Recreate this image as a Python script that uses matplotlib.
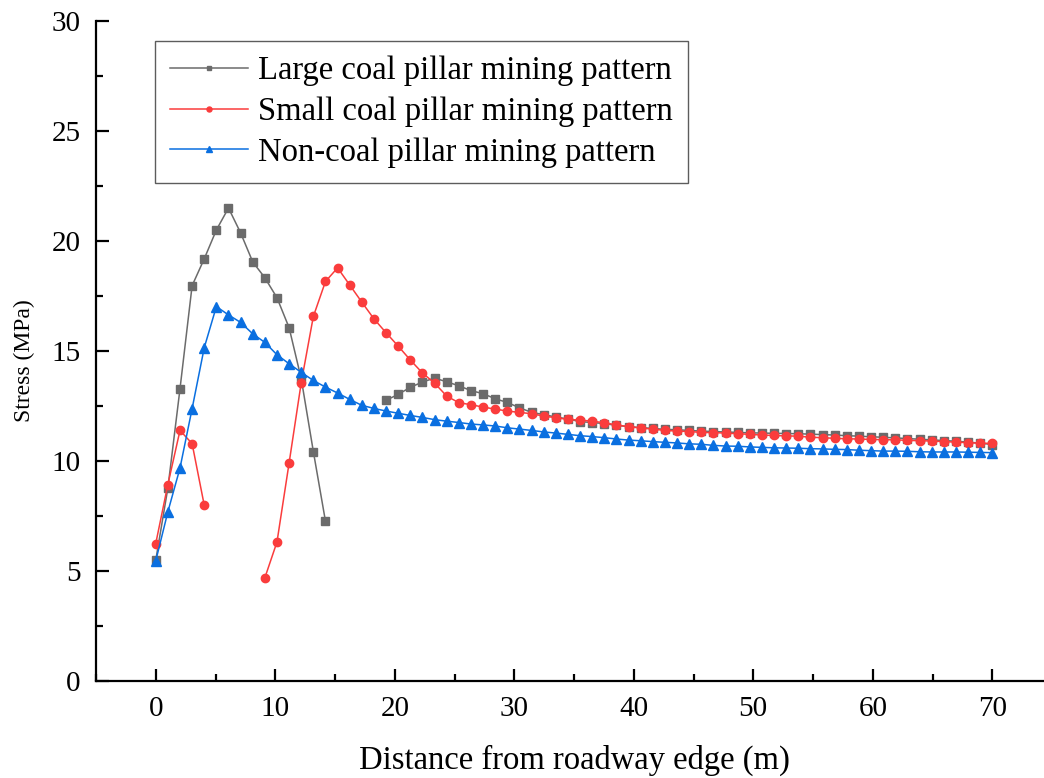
import numpy as np
import matplotlib
matplotlib.use("Agg")
import matplotlib.pyplot as plt
from matplotlib.ticker import MultipleLocator

plt.rcParams['font.family'] = ['Liberation Serif', 'DejaVu Serif']

# 70 sampling points spread evenly over 0-70 m (numerical grid)
distance = np.round(np.linspace(0, 70, 70), 3)

nan = np.nan
large_pillar = [5.49, 8.77, 13.28, 17.97, 19.19, 20.5, 21.5, 20.37, 19.05, 18.33,
                17.42, 16.06, 13.74, 10.43, 7.26, nan, nan, nan, nan, 12.76,
                13.03, 13.35, 13.59, 13.77, 13.6, 13.42, 13.2, 13.06, 12.83, 12.66,
                12.42, 12.21, 12.11, 12.0, 11.91, 11.79, 11.75, 11.7, 11.62, 11.56,
                11.52, 11.48, 11.44, 11.42, 11.39, 11.36, 11.34, 11.32, 11.3, 11.28,
                11.27, 11.26, 11.25, 11.24, 11.22, 11.2, 11.18, 11.15, 11.13, 11.1,
                11.08, 11.05, 11.02, 10.99, 10.96, 10.93, 10.9, 10.86, 10.81, 10.75]

small_pillar = [6.25, 8.93, 11.39, 10.79, 7.99, nan, nan, nan, nan, 4.69,
                6.32, 9.91, 13.56, 16.57, 18.16, 18.78, 18.0, 17.22, 16.46, 15.83,
                15.22, 14.59, 14.0, 13.54, 12.95, 12.65, 12.56, 12.45, 12.36, 12.27,
                12.21, 12.15, 12.04, 11.97, 11.89, 11.86, 11.81, 11.74, 11.64, 11.56,
                11.5, 11.45, 11.39, 11.36, 11.34, 11.3, 11.29, 11.27, 11.24, 11.21,
                11.18, 11.16, 11.14, 11.13, 11.08, 11.06, 11.03, 11.01, 11.0, 10.98,
                10.97, 10.96, 10.94, 10.92, 10.91, 10.88, 10.86, 10.83, 10.81, 10.80]

no_pillar = [5.46, 7.69, 9.68, 12.38, 15.15, 17.02, 16.64, 16.3, 15.78, 15.39,
             14.83, 14.42, 14.03, 13.66, 13.36, 13.09, 12.8, 12.53, 12.39, 12.27,
             12.17, 12.07, 11.98, 11.88, 11.81, 11.75, 11.68, 11.64, 11.59, 11.51,
             11.45, 11.39, 11.32, 11.27, 11.21, 11.15, 11.11, 11.06, 11.0, 10.95,
             10.92, 10.88, 10.85, 10.82, 10.78, 10.76, 10.71, 10.68, 10.67, 10.64,
             10.62, 10.6, 10.59, 10.58, 10.56, 10.55, 10.53, 10.52, 10.49, 10.47,
             10.45, 10.45, 10.44, 10.42, 10.41, 10.41, 10.41, 10.40, 10.39, 10.38]

labels = ["Large coal pillar mining pattern",
          "Small coal pillar mining pattern",
          "Non-coal pillar mining pattern"]
xlabel = "Distance from roadway edge (m)"
ylabel = "Stress (MPa)"

fig = plt.figure(figsize=(10.44, 7.78), dpi=100)
ax = fig.add_axes([96 / 1044, 97 / 778, 956 / 1044, 660 / 778])

ax.plot(distance, large_pillar, color='#6b6b6b', marker='s', markersize=5.5,
        linewidth=1.1, label=labels[0])
ax.plot(distance, small_pillar, color='#fa3c3c', marker='o', markersize=6,
        linewidth=1.1, label=labels[1])
ax.plot(distance, no_pillar, color='#0a6fe0', marker='^', markersize=6.5,
        linewidth=1.1, label=labels[2])

ax.set_xlim(-5, 75)
ax.set_ylim(0, 30)
ax.xaxis.set_major_locator(MultipleLocator(10))
ax.xaxis.set_minor_locator(MultipleLocator(5))
ax.yaxis.set_major_locator(MultipleLocator(5))
ax.yaxis.set_minor_locator(MultipleLocator(2.5))

for s in ['top', 'right']:
    ax.spines[s].set_visible(False)
for s in ['left', 'bottom']:
    ax.spines[s].set_linewidth(1.6)

ax.tick_params(which='both', direction='in', width=1.6, labelsize=21)
ax.tick_params(which='major', length=9)
ax.tick_params(which='minor', length=5)
ax.tick_params(axis='x', pad=11)
ax.tick_params(axis='y', pad=11)

ax.set_xlabel(xlabel, fontsize=23.5, labelpad=16)
ax.set_ylabel(ylabel, fontsize=17)
ax.yaxis.set_label_coords(-0.064, 0.485)

leg = ax.legend(loc='upper left', bbox_to_anchor=(0.062, 0.97), fontsize=23.5,
                frameon=True, fancybox=False, borderaxespad=0, handlelength=2.4,
                handletextpad=0.3, labelspacing=0.32, borderpad=0.45, markerscale=0.6)
leg.get_frame().set_edgecolor('#333333')
leg.get_frame().set_linewidth(1.0)

fig.savefig('out.png', dpi=100)
